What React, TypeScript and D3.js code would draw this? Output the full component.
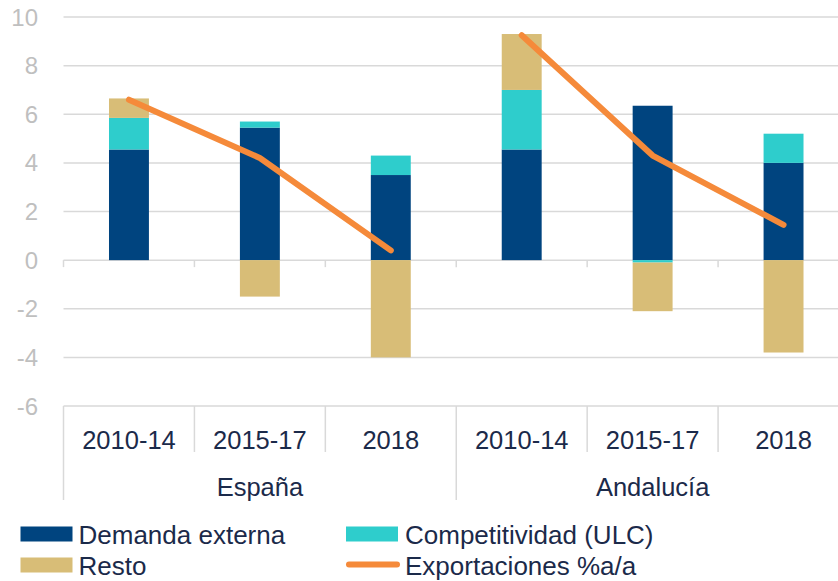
import React from "react";
import * as d3 from "d3";

const groups = ["España", "Andalucía"];
const periods = ["2010-14", "2015-17", "2018"];
const demanda = [4.55, 5.45, 3.5, 4.55, 6.35, 4.0];
const competitividad = [1.3, 0.25, 0.8, 2.45, -0.1, 1.2];
const resto = [0.8, -1.5, -4.0, 2.3, -2.0, -3.8];
const exportaciones = [6.6, 4.2, 0.4, 9.25, 4.3, 1.45];
const yTicks = [10, 8, 6, 4, 2, 0, -2, -4, -6];

const seriesKeys = ["demanda", "competitividad", "resto"];
const seriesNames = ["Demanda externa", "Competitividad (ULC)", "Resto", "Exportaciones %a/a"];
const colors: Record<string, string> = {
  demanda: "#00447F",
  competitividad: "#2ECDCC",
  resto: "#D8BD77",
  line: "#F58A3A",
};

const W = 838;
const H = 581;
const FONT = "'Liberation Sans', Arial, sans-serif";
const TEXT = "#1B2A4A";
const GRID = "#D9D9D9";

export default function App() {
  const cats = groups.flatMap((g) => periods.map((p) => `${g}|${p}`));
  const rows = cats.map((c, i) => ({
    key: c,
    demanda: demanda[i],
    competitividad: competitividad[i],
    resto: resto[i],
  }));
  const x = d3.scaleBand<string>().domain(cats).range([63.5, 849]).padding(0);
  const y = d3.scaleLinear().domain([-6, 10]).range([406, 17]);
  const stack = d3
    .stack<any>()
    .keys(seriesKeys)
    .offset(d3.stackOffsetDiverging);
  const stacked = stack(rows);
  const barW = x.step() * 0.305;
  const cx = (c: string) => (x(c) as number) + x.bandwidth() / 2;

  const groupLines = groups.map((g, gi) => {
    const pts: [number, number][] = periods.map((p, pi) => [
      cx(`${g}|${p}`),
      y(exportaciones[gi * 3 + pi]),
    ]);
    return d3.line()(pts) as string;
  });

  const boundaries = d3.range(cats.length + 1).map((i) => 63.5 + i * x.step());

  return (
    <svg
      width={W}
      height={H}
      style={{ position: "absolute", left: 0, top: 0, background: "#fff" }}
      fontFamily={FONT}
    >
      {yTicks.map((t) => (
        <line
          key={t}
          x1={63.5}
          x2={W}
          y1={y(t)}
          y2={y(t)}
          stroke={GRID}
          strokeWidth={1.5}
        />
      ))}
      {yTicks.map((t) => (
        <text
          key={"l" + t}
          x={38}
          y={y(t) + 8.5}
          textAnchor="end"
          fontSize={24}
          fill="#BFBFBF"
        >
          {t}
        </text>
      ))}
      {boundaries.map((b, i) => (
        <line
          key={"zt" + i}
          x1={b}
          x2={b}
          y1={y(0)}
          y2={y(0) + 7}
          stroke={GRID}
          strokeWidth={1.5}
        />
      ))}
      {stacked.map((s) =>
        s.map((d, i) => (
          <rect
            key={s.key + i}
            x={cx(cats[i]) - barW / 2}
            width={barW}
            y={y(Math.max(d[0], d[1]))}
            height={Math.abs(y(d[0]) - y(d[1]))}
            fill={colors[s.key]}
          />
        ))
      )}
      {groupLines.map((p, i) => (
        <path
          key={"ln" + i}
          d={p}
          fill="none"
          stroke={colors.line}
          strokeWidth={6}
          strokeLinecap="round"
          strokeLinejoin="round"
        />
      ))}
      {boundaries.map((b, i) => (
        <line
          key={"sep" + i}
          x1={b}
          x2={b}
          y1={y(-6)}
          y2={i % 3 === 0 ? 500 : 452}
          stroke={GRID}
          strokeWidth={1.5}
        />
      ))}
      {cats.map((c, i) => (
        <text
          key={"cl" + c}
          x={cx(c)}
          y={448.5}
          textAnchor="middle"
          fontSize={25.5}
          fill={TEXT}
        >
          {periods[i % 3]}
        </text>
      ))}
      {groups.map((g, gi) => (
        <text
          key={"gl" + g}
          x={(boundaries[gi * 3] + boundaries[gi * 3 + 3]) / 2}
          y={496}
          textAnchor="middle"
          fontSize={25.5}
          fill={TEXT}
        >
          {g}
        </text>
      ))}
      {seriesNames.map((n, i) => {
        const col = i % 2;
        const row = Math.floor(i / 2);
        const sx = col === 0 ? 20.5 : 346;
        const tx = col === 0 ? 78.5 : 405;
        const base = row === 0 ? 544 : 575;
        const key = i < 3 ? seriesKeys[i] : "line";
        return (
          <g key={"lg" + i}>
            {i < 3 ? (
              <rect
                x={sx}
                y={base - 17.5}
                width={52}
                height={15}
                fill={colors[key]}
              />
            ) : (
              <line
                x1={sx + 3}
                x2={sx + 51}
                y1={base - 10.5}
                y2={base - 10.5}
                stroke={colors.line}
                strokeWidth={6}
                strokeLinecap="round"
              />
            )}
            <text x={tx} y={base} fontSize={26} fill={TEXT}>
              {n}
            </text>
          </g>
        );
      })}
    </svg>
  );
}
